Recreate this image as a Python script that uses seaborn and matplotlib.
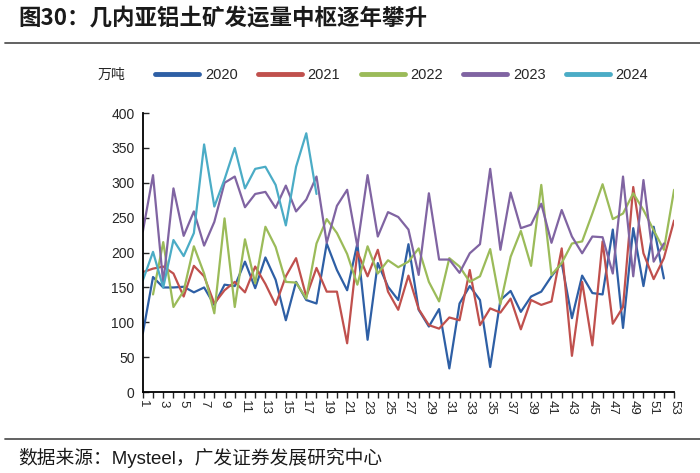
import pandas as pd
import numpy as np
import matplotlib
matplotlib.use("Agg")
import matplotlib.pyplot as plt
from matplotlib.lines import Line2D
import seaborn as sns

# weekly shipments (万吨), week 1..n
s2020 = [84, 165, 150, 150, 151, 143, 150, 125, 154, 152, 187, 149, 193, 161, 103, 158, 132, 127,
         213, 175, 146, 213, 75, 185, 151, 132, 212, 118, 94, 119, 34, 127, 152, 132, 36, 132,
         145, 115, 137, 144, 166, 185, 106, 167, 142, 140, 233, 92, 235, 152, 237, 163]
s2021 = [172, 177, 180, 170, 137, 181, 166, 127, 146, 158, 143, 180, 155, 125, 166, 192, 137, 178,
         144, 144, 70, 201, 166, 204, 144, 118, 167, 119, 96, 91, 107, 103, 175, 96, 120, 114,
         134, 90, 132, 125, 130, 206, 52, 158, 67, 216, 98, 122, 294, 199, 162, 192, 246]
s2022 = [np.nan, 140, 215, 122, 145, 209, 170, 113, 249, 122, 219, 156, 237, 208, 158, 157, 134, 213,
         248, 228, 198, 154, 209, 170, 189, 179, 187, 206, 158, 130, 192, 180, 158, 166, 205, 126,
         194, 231, 181, 297, 168, 185, 213, 216, 256, 298, 248, 256, 285, 261, 232, 204, 290]
s2023 = [230, 311, 156, 292, 224, 259, 210, 244, 300, 309, 265, 284, 287, 264, 296, 259, 276, 309,
         214, 267, 290, 209, 311, 223, 258, 251, 233, 168, 285, 190, 190, 171, 199, 212, 320, 204,
         286, 235, 240, 270, 214, 261, 223, 199, 223, 222, 170, 309, 166, 304, 187, 213]
s2024 = [160, 201, 150, 218, 195, 228, 355, 266, 305, 350, 292, 320, 323, 297, 239, 323, 371, 284]

series = {"2020": s2020, "2021": s2021, "2022": s2022, "2023": s2023, "2024": s2024}
colors = {"2020": "#2E5FA5", "2021": "#C0504D", "2022": "#9BBB59",
          "2023": "#8064A2", "2024": "#4BACC6"}

rows = []
for year, vals in series.items():
    for i, v in enumerate(vals):
        rows.append({"week": i + 1, "value": v, "year": year})
df = pd.DataFrame(rows).dropna()

sns.set_style("ticks")
plt.rcParams["font.family"] = ["Liberation Sans", "Noto Sans CJK SC", "DejaVu Sans"]

fig = plt.figure(figsize=(7, 4.73), dpi=100)
ax = fig.add_axes([0.204, 0.171, 0.759, 0.590])

sns.lineplot(data=df, x="week", y="value", hue="year", palette=colors,
             linewidth=1.6, ax=ax, legend=False)

ax.set_xlim(1, 53)
ax.set_ylim(0, 400)
ax.set_yticks(range(0, 401, 50))
ax.set_xticks(range(1, 54))
ax.set_xticklabels([str(w) if w % 2 == 1 else "" for w in range(1, 54)], rotation=270,
                   fontsize=9.5)
ax.tick_params(axis="y", direction="in", length=4, width=1, labelsize=10, pad=6)
ax.tick_params(axis="x", direction="out", length=4, width=1, pad=2)
ax.set_xlabel("")
ax.set_ylabel("")
for side in ["top", "right"]:
    ax.spines[side].set_visible(False)
for side in ["left", "bottom"]:
    ax.spines[side].set_linewidth(1.3)
    ax.spines[side].set_color("black")

handles = [Line2D([0], [0], color=colors[y], lw=3.5) for y in series]
fig.legend(handles, list(series.keys()), loc="center", bbox_to_anchor=(0.574, 0.841),
           ncol=5, frameon=False, fontsize=10.5, handlelength=3.0, handletextpad=0.4,
           columnspacing=1.4)

fig.text(0.159, 0.841, "万吨", ha="center", va="center", fontsize=10)

fig.text(0.026, 0.96, "图30：几内亚铝土矿发运量中枢逐年攀升", fontsize=16.2, fontweight="bold",
         family=["Noto Sans CJK SC"], va="center", ha="left", color="#1a1a1a")
fig.add_artist(Line2D([0.007, 1.0], [1 - 43 / 473] * 2, color="#555555", lw=1.3))
fig.add_artist(Line2D([0.007, 1.0], [1 - 439 / 473] * 2, color="#555555", lw=1.3))
fig.text(0.026, 0.032, "数据来源：Mysteel，广发证券发展研究中心", fontsize=13.5,
         va="center", ha="left", color="#1a1a1a")

fig.savefig("out.png", dpi=100)
